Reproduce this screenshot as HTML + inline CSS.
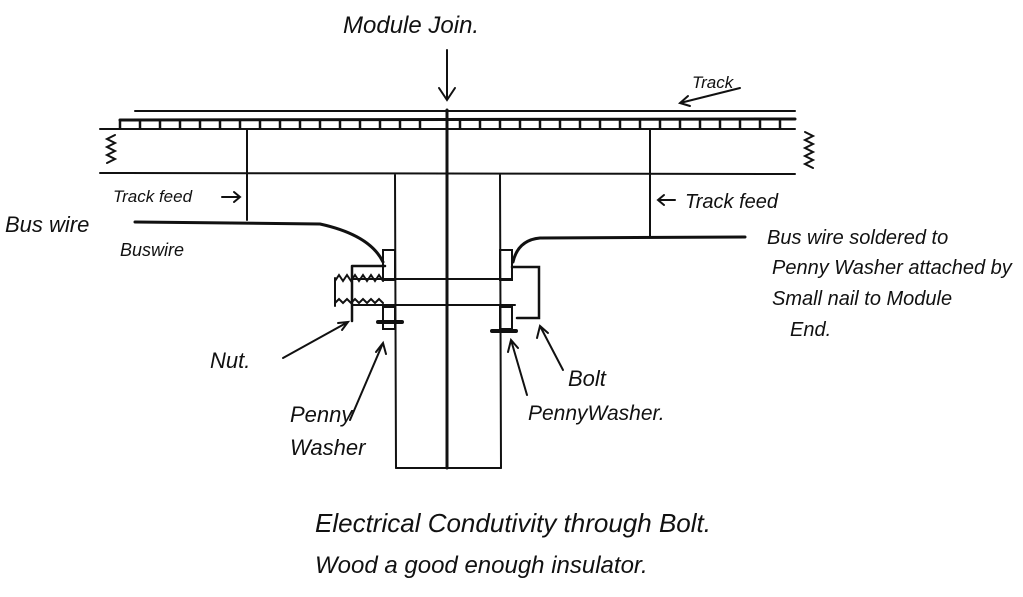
<!DOCTYPE html>
<html><head><style>
html,body{margin:0;padding:0;background:#fff;}
svg{display:block;}
text{font-family:"Liberation Sans",sans-serif;fill:#111;}
</style></head><body>
<svg width="1023" height="597" viewBox="0 0 1023 597" xmlns="http://www.w3.org/2000/svg">
<g stroke="#111" stroke-width="2" fill="none" stroke-linecap="round">
<!-- track -->
<line x1="135" y1="111" x2="795" y2="111"/>
<line x1="120" y1="120" x2="795" y2="119" stroke-width="3"/>
<line x1="100" y1="129" x2="795" y2="129"/>
<path d="M120 120 v8 M140 120 v8 M160 120 v8 M180 120 v8 M200 120 v8 M220 120 v8 M240 120 v8 M260 120 v8 M280 120 v8 M300 120 v8 M320 120 v8 M340 120 v8 M360 120 v8 M380 120 v8 M400 120 v8 M420 120 v8 M460 120 v8 M480 120 v8 M500 120 v8 M520 120 v8 M540 120 v8 M560 120 v8 M580 120 v8 M600 120 v8 M620 120 v8 M640 120 v8 M660 120 v8 M680 120 v8 M700 120 v8 M720 120 v8 M740 120 v8 M760 120 v8 M780 120 v8" stroke-width="2.5"/>
<line x1="100" y1="173" x2="795" y2="174"/>
<path d="M115 135 l-8 4 l8 4 l-8 4 l8 4 l-8 4 l8 4 l-8 4"/>
<path d="M805 132 l8 4 l-8 4 l8 4 l-8 4 l8 4 l-8 4 l8 4 l-8 4 l8 4"/>
<!-- joint -->
<line x1="447" y1="110" x2="447" y2="468" stroke-width="3"/>
<line x1="395" y1="175" x2="396" y2="468"/>
<line x1="500" y1="175" x2="501" y2="468"/>
<line x1="396" y1="468" x2="501" y2="468"/>
<!-- feeds -->
<line x1="247" y1="130" x2="247" y2="220"/>
<line x1="650" y1="130" x2="650" y2="237"/>
<!-- bus wires -->
<path d="M135 222 L320 224 Q370 235 383 262" stroke-width="3"/>
<path d="M513 262 Q518 240 540 238 L745 237" stroke-width="3"/>
<!-- plates -->
<path d="M383 250 h12 v30 h-12 z"/>
<path d="M500 250 h12 v30 h-12 z"/>
<!-- bolt -->
<line x1="352" y1="279" x2="512" y2="279"/>
<line x1="352" y1="305" x2="515" y2="305"/>
<path d="M335 281 l4 -6 l4 6 l4 -6 l4 6 l4 -6 l4 6 l4 -6 l4 6 l4 -6 l4 6 l4 -6 l4 6"/>
<path d="M335 303 l4 -4 l4 4 l4 -4 l4 4 l4 -4 l4 4 l4 -4 l4 4 l4 -4 l4 4 l4 -4 l4 4"/>
<line x1="335" y1="278" x2="335" y2="306"/>
<path d="M352 266 h33 M352 266 v55" stroke-width="2.5"/>
<path d="M512 267 h27 v51 h-22" stroke-width="2.5"/>
<path d="M383 307 h12 v22 h-12 z"/>
<path d="M500 307 h12 v22 h-12 z"/>
<line x1="378" y1="322" x2="402" y2="322" stroke-width="4"/>
<line x1="492" y1="331" x2="516" y2="331" stroke-width="4"/>
<!-- arrows -->
<path d="M447 50 V100 M439 88 L447 100 L455 88"/>
<path d="M740 88 L680 103 M688 96 L680 103 L690 106"/>
<path d="M222 197 h18 M234 192 l6 5 l-6 5"/>
<path d="M675 200 h-17 M664 195 l-6 5 l6 5"/>
<path d="M283 358 L348 322 M338 323 L348 322 L342 330"/>
<path d="M350 420 L383 343 M376 352 L383 343 L386 354"/>
<path d="M527 395 L511 340 M508 352 L511 340 L518 348"/>
<path d="M563 370 L540 326 M537 338 L540 326 L548 333"/>
</g>
<g font-style="italic">
<text x="343" y="33" font-size="24">Module Join.</text>
<text x="692" y="88" font-size="17">Track</text>
<text x="113" y="202" font-size="17">Track feed</text>
<text x="685" y="208" font-size="20">Track feed</text>
<text x="5" y="232" font-size="22">Bus wire</text>
<text x="120" y="256" font-size="18" fill="#bbb">Buswire</text>
<text x="767" y="244" font-size="20">Bus wire soldered to</text>
<text x="772" y="274" font-size="20">Penny Washer attached by</text>
<text x="772" y="305" font-size="20">Small nail to Module</text>
<text x="790" y="336" font-size="20">End.</text>
<text x="210" y="368" font-size="22">Nut.</text>
<text x="290" y="422" font-size="22">Penny</text>
<text x="290" y="455" font-size="22">Washer</text>
<text x="568" y="386" font-size="22">Bolt</text>
<text x="528" y="420" font-size="21">PennyWasher.</text>
<text x="315" y="532" font-size="26">Electrical Condutivity through Bolt.</text>
<text x="315" y="573" font-size="24">Wood a good enough insulator.</text>
</g>
</svg>
</body></html>
